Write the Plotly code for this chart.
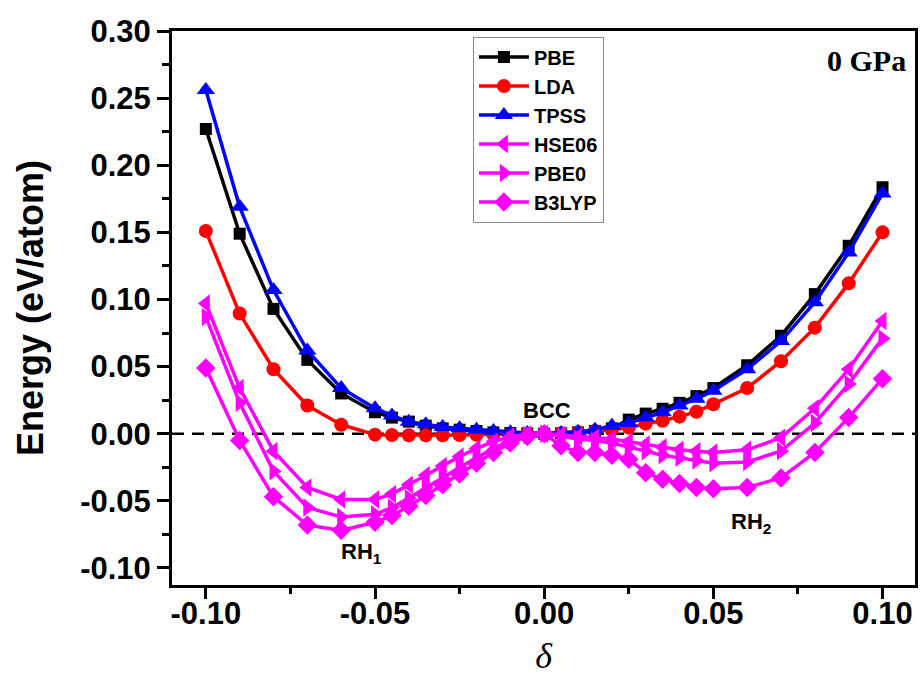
import plotly.graph_objects as go

delta = [-0.10, -0.09, -0.08, -0.07, -0.06, -0.05, -0.045, -0.04, -0.035, -0.03, -0.025,
         -0.02, -0.015, -0.01, -0.005, 0.0, 0.005, 0.01, 0.015, 0.02, 0.025, 0.03,
         0.035, 0.04, 0.045, 0.05, 0.06, 0.07, 0.08, 0.09, 0.10]

pbe = [0.227, 0.149, 0.093, 0.055, 0.030, 0.016, 0.012, 0.009, 0.006, 0.004, 0.003,
       0.002, 0.001, 0.0005, 0.0002, 0.0, 0.0003, 0.001, 0.002, 0.004, 0.0105, 0.015,
       0.0186, 0.023, 0.028, 0.034, 0.051, 0.073, 0.104, 0.140, 0.1836]
lda = [0.151, 0.0895, 0.048, 0.021, 0.0067, -0.0007, -0.001, -0.0012, -0.0012, -0.0012, -0.001,
       -0.0008, -0.0005, -0.0003, -0.0001, 0.0, 0.0003, 0.001, 0.002, 0.003, 0.0045, 0.0075,
       0.0097, 0.0127, 0.0164, 0.022, 0.034, 0.054, 0.079, 0.112, 0.150]
tpss = [0.256, 0.169, 0.107, 0.062, 0.034, 0.019, 0.0135, 0.009, 0.007, 0.005, 0.004,
        0.003, 0.002, 0.001, 0.0005, 0.0, 0.0005, 0.0015, 0.003, 0.006, 0.008, 0.012,
        0.016, 0.021, 0.026, 0.032, 0.048, 0.069, 0.098, 0.135, 0.179]
hse06 = [0.097, 0.034, -0.013, -0.040, -0.049, -0.049, -0.045, -0.038, -0.031, -0.024, -0.017,
         -0.011, -0.006, -0.002, -0.0005, 0.0, -0.001, -0.002, -0.003, -0.004, -0.006, -0.008,
         -0.010, -0.012, -0.013, -0.014, -0.012, -0.003, 0.019, 0.048, 0.084]
pbe0 = [0.087, 0.023, -0.028, -0.055, -0.062, -0.060, -0.055, -0.048, -0.040, -0.033, -0.025,
        -0.018, -0.011, -0.005, -0.001, 0.0, -0.002, -0.004, -0.005, -0.007, -0.010, -0.013,
        -0.016, -0.018, -0.020, -0.022, -0.021, -0.013, 0.008, 0.037, 0.071]
b3lyp = [0.049, -0.005, -0.047, -0.068, -0.072, -0.066, -0.061, -0.054, -0.046, -0.038, -0.030,
         -0.022, -0.014, -0.007, -0.002, 0.0, -0.009, -0.014, -0.014, -0.016, -0.019, -0.029,
         -0.034, -0.037, -0.040, -0.041, -0.040, -0.033, -0.014, 0.012, 0.041]

series = [
    ("PBE", pbe, "#000000", "square", 12),
    ("LDA", lda, "#FF0000", "circle", 14),
    ("TPSS", tpss, "#0000FF", "triangle-up", 16),
    ("HSE06", hse06, "#FF00FF", "triangle-left", 16),
    ("PBE0", pbe0, "#FF00FF", "triangle-right", 16),
    ("B3LYP", b3lyp, "#FF00FF", "diamond", 15),
]

x_ticks = [-0.10, -0.05, 0.0, 0.05, 0.10]
x_ticklabels = ["-0.10", "-0.05", "0.00", "0.05", "0.10"]
y_ticks = [-0.10, -0.05, 0.0, 0.05, 0.10, 0.15, 0.20, 0.25, 0.30]
y_ticklabels = ["-0.10", "-0.05", "0.00", "0.05", "0.10", "0.15", "0.20", "0.25", "0.30"]

fig = go.Figure()
for name, vals, color, sym, size in series:
    fig.add_trace(go.Scatter(
        x=delta, y=vals, name=name, mode="lines+markers",
        line=dict(color=color, width=3.5),
        marker=dict(symbol=sym, size=size, color=color, line=dict(width=0)),
    ))

fig.add_hline(y=0, line=dict(color="black", width=2.5, dash="12px,8px"), layer="below")

tickfont = dict(family="Arial", size=31, color="black", weight="bold")
fig.update_layout(
    width=922, height=686,
    margin=dict(l=172, r=4, t=31, b=101),
    paper_bgcolor="white", plot_bgcolor="white",
    font=dict(family="Arial", color="black"),
    showlegend=True,
    legend=dict(
        x=0.405, y=0.99, xanchor="left", yanchor="top",
        bgcolor="white", bordercolor="#888888", borderwidth=1,
        font=dict(family="Arial", size=20, color="black", weight="bold"),
        tracegroupgap=0, itemwidth=50,
    ),
    xaxis=dict(
        range=[-0.11, 0.1096], tickvals=x_ticks, ticktext=x_ticklabels,
        tickfont=tickfont, ticks="outside", ticklen=11, tickwidth=3,
        ticklabelstandoff=-12,
        tickcolor="black", showline=True, linewidth=3, linecolor="black", mirror=True,
        showgrid=False, zeroline=False,
        minor=dict(dtick=0.025, tick0=0, ticks="outside", ticklen=6, tickwidth=3, tickcolor="black"),
        title=dict(text="δ", font=dict(family="Times New Roman", size=36, style="italic"), standoff=13),
    ),
    yaxis=dict(
        range=[-0.1127, 0.30], tickvals=y_ticks, ticktext=y_ticklabels,
        tickfont=tickfont, ticks="outside", ticklen=12, tickwidth=3,
        tickcolor="black", showline=True, linewidth=3, linecolor="black", mirror=True,
        showgrid=False, zeroline=False,
        minor=dict(dtick=0.025, tick0=0, ticks="outside", ticklen=7, tickwidth=3, tickcolor="black"),
        title=dict(text="Energy (eV/atom)", font=dict(family="Arial", size=36, weight="bold"), standoff=26),
    ),
    annotations=[
        dict(x=0.0, y=0.0, xref="x", yref="y", text="<b>BCC</b>", showarrow=False,
             yshift=23, xshift=3, font=dict(family="Arial", size=22, color="black")),
        dict(x=-0.054, y=-0.0885, xref="x", yref="y", text="<b>RH<sub>1</sub></b>", showarrow=False,
             font=dict(family="Arial", size=22, color="black")),
        dict(x=0.061, y=-0.0665, xref="x", yref="y", text="<b>RH<sub>2</sub></b>", showarrow=False,
             font=dict(family="Arial", size=22, color="black")),
        dict(x=0.99, y=0.98, xref="paper", yref="paper", xanchor="right", yanchor="top",
             text="<b>0 GPa</b>", showarrow=False,
             font=dict(family="Times New Roman", size=30, color="black")),
    ],
)

fig.write_html("out.html")
